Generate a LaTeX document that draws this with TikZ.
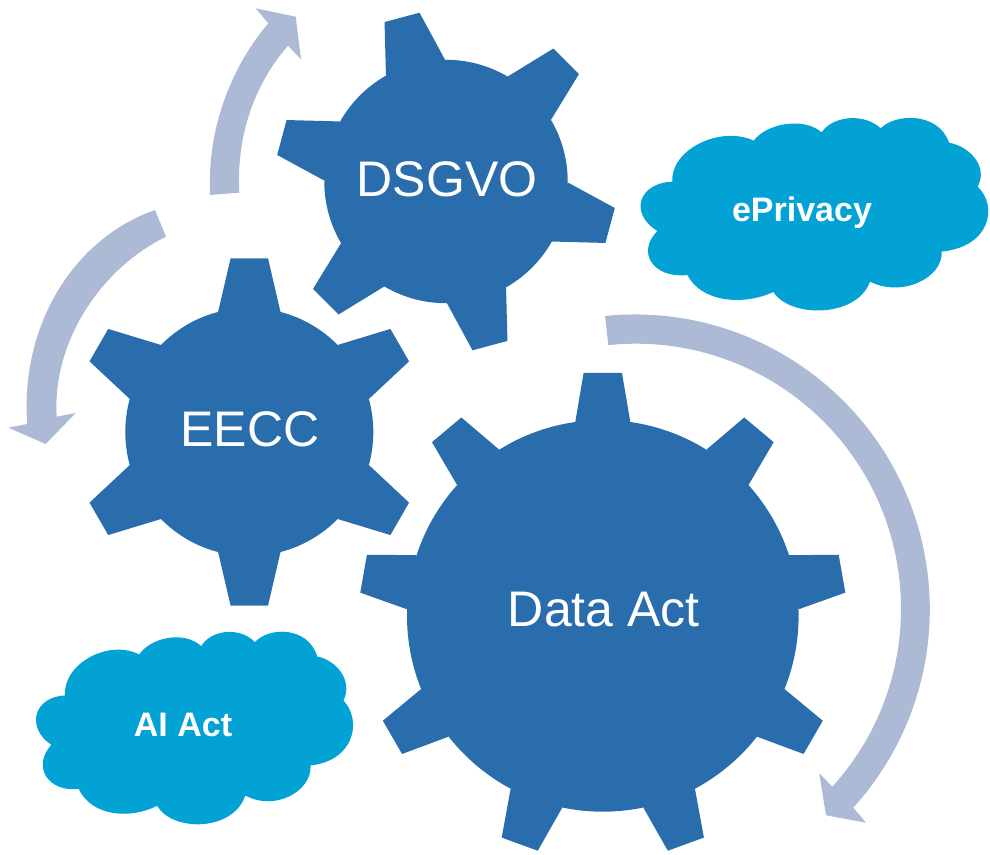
\documentclass[tikz,border=0pt]{standalone}
\usepackage{fontspec}
\setmainfont{Liberation Sans}
\definecolor{gearblue}{HTML}{2A6DAD}
\definecolor{cloudblue}{HTML}{02A2D5}
\definecolor{arrowblue}{HTML}{ADBAD5}
\tikzset{
    gearfill/.style={fill=gearblue},
    arrowfill/.style={fill=arrowblue},
    gearlabel/.style={anchor=base,text=white,inner sep=0pt,font=\fontsize{50}{60}\selectfont},
    cloudlabel/.style={anchor=base,text=white,inner sep=0pt,font=\fontsize{34}{40}\selectfont\bfseries},
    cloudshape/.pic={
        \fill[cloudblue] (-427,98.5) .. controls (-434,193.5) and (-284,268.5) .. (-183,221.5)
            .. controls (-144,273.5) and (-34,293.5) .. (21,246.5)
            .. controls (56,298.5) and (151,303.5) .. (198,258.5)
            .. controls (241,303.5) and (371,308.5) .. (403,215.5)
            .. controls (466,203.5) and (521,143.5) .. (489,83.5)
            .. controls (551,23.5) and (526,-96.5) .. (381,-111.5)
            .. controls (385,-190) and (262,-250) .. (166,-201.5)
            .. controls (126,-311) and (-74,-311) .. (-124,-232.5)
            .. controls (-214,-274) and (-340,-264) .. (-382,-181.5)
            .. controls (-480,-193) and (-538,-116.5) .. (-472,-49.5)
            .. controls (-558,3.5) and (-528,95) .. (-427,98.5) -- cycle;
    }
}
\begin{document}
\begin{tikzpicture}[x=1pt,y=1pt]
    \useasboundingbox (0,0) rectangle (990,854);
    % gears
    \begin{scope}[shift={(446,672.5)}]
        \fill[gearfill] (0,0) circle (121.7);
        \foreach \a in {105,165,...,405}
            \fill[gearfill,rotate=\a-90] (-30.6,117.8) -- (-18.1,169.9) -- (18.1,169.9) -- (30.6,117.8) -- cycle;
    \end{scope}
    \begin{scope}[shift={(249.3,422)}]
        \fill[gearfill] (0,0) circle (124);
        \foreach \a in {90,150,...,390}
            \fill[gearfill,rotate=\a-90] (-31.2,120) -- (-18.7,173.7) -- (18.7,173.7) -- (31.2,120) -- cycle;
    \end{scope}
    \begin{scope}[shift={(602.8,238.1)}]
        \fill[gearfill] (0,0) circle (195.8);
        \foreach \a in {90,130,...,410}
            \fill[gearfill,rotate=\a-90] (-27.5,193.9) -- (-19.2,242.9) -- (19.2,242.9) -- (27.5,193.9) -- cycle;
    \end{scope}
    % arrows
    \fill[arrowfill] (210,659) .. controls (207,729) and (233,789) .. (268.3,830.7)
        -- (255.7,845.7) -- (295.7,837.3) -- (301,794.7) -- (288,808.3)
        .. controls (258,774) and (236,724) .. (239.3,661.3) -- cycle;
    \fill[arrowfill] (155,644) .. controls (70,614) and (20,524) .. (27.3,430)
        -- (8.3,426.3) -- (45.7,410) -- (75.7,441) -- (56.7,437.3)
        .. controls (52,509) and (98,584) .. (166,617.3) -- cycle;
    \fill[arrowfill] (605,538) arc[start angle=95.8,end angle=-42.2,radius=295]
        -- (866,31.3) -- (826,38.7) -- (819.3,80.7) -- (832.3,67.3)
        arc[start angle=-42.2,end angle=96,radius=265] -- cycle;
    % clouds
    \path (814.7,639.5) pic[scale=1/3] {cloudshape};
    \path (194.8,125.7) pic[xscale=.304,yscale=1/3] {cloudshape};
    % labels
    \node[gearlabel] (dsgvo) at (447,657.3) {DSGVO};
    \node[gearlabel] (eecc) at (250,407.3) {EECC};
    \node[gearlabel] (dataact) at (603.8,227.3) {Data Act};
    \node[cloudlabel] (eprivacy) at (802,632.3) {ePrivacy};
    \node[cloudlabel] (aiact) at (183,117.3) {AI Act};
\end{tikzpicture}
\end{document}
